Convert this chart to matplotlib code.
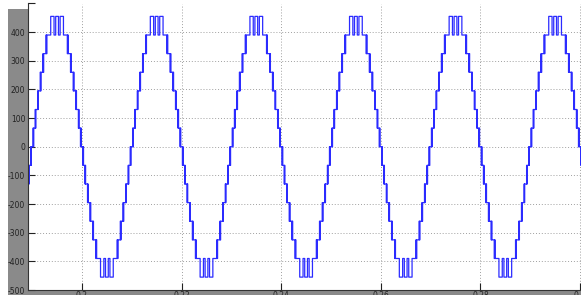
import numpy as np
import matplotlib
matplotlib.use('Agg')
import matplotlib.pyplot as plt
from matplotlib.patches import Rectangle

# staircase inverter output, one positive quarter
# (switching angle in degrees after the rising zero crossing, level index after it)
RISE_DEG = [3.0, 4.5, 5.5, 11.0, 12.0, 13.0, 20.0, 21.0, 22.0, 29.0, 30.5, 31.5,
            39.0, 40.0, 41.5, 50.0, 51.5, 53.0, 67.0, 79.0, 85.0]
RISE_LEVEL = [1, 0, 1, 2, 1, 2, 3, 2, 3, 4, 3, 4, 5, 4, 5, 6, 5, 6, 7, 6, 7]
STEP_V = 65.0          # volts per level
PERIOD = 0.02          # 50 Hz
FIRST_ZERO = 0.17      # a rising zero crossing before the window
N_CYCLES = 8

X_TICKS = [0.2, 0.22, 0.24, 0.26, 0.28, 0.3]
X_LABELS = ['0.2', '0.22', '0.24', '0.26', '0.28', '0.3']
Y_TICKS = [-500, -400, -300, -200, -100, 0, 100, 200, 300, 400, 500]
Y_LABELS = ['-500', '-400', '-300', '-200', '-100', '0', '100', '200', '300', '400', '']


def half_cycle():
    deg = list(RISE_DEG)
    lvl = list(RISE_LEVEL)
    prev = [0] + RISE_LEVEL[:-1]
    for i in range(len(RISE_DEG) - 1, -1, -1):
        deg.append(180.0 - RISE_DEG[i])
        lvl.append(prev[i])
    return np.asarray(deg), np.asarray(lvl)


def build_wave():
    deg, lvl = half_cycle()
    t, v = [FIRST_ZERO], [0.0]
    for n in range(N_CYCLES):
        t0 = FIRST_ZERO + n * PERIOD
        for sign, off in ((1, 0.0), (-1, 180.0)):
            t.extend(t0 + (deg + off) / 360.0 * PERIOD)
            v.extend(sign * lvl * STEP_V)
    return np.asarray(t), np.asarray(v)


t, v = build_wave()

W, H = 581, 295
fig = plt.figure(figsize=(W / 100, H / 100), dpi=100, facecolor='white')
gray = '#8a8a8a'
fig.patches.append(Rectangle((8 / W, 0), 20 / W, (H - 9) / H, transform=fig.transFigure,
                             facecolor=gray, edgecolor='none', zorder=-5))
fig.patches.append(Rectangle((8 / W, 0), 1 - 8 / W, 5 / H, transform=fig.transFigure,
                             facecolor=gray, edgecolor='none', zorder=-5))

ax = fig.add_axes([28 / W, 5 / H, (W - 28) / W, 286.5 / H])
ax.step(t, v, where='post', color='#2b2bff', lw=0.9)

ax.set_xlim(0.18916, 0.3002)
ax.set_ylim(-500, 500)
ax.set_xticks(X_TICKS)
ax.set_xticklabels(X_LABELS)
ax.set_yticks(Y_TICKS)
ax.set_yticklabels(Y_LABELS)
ax.tick_params(direction='in', length=5, width=0.8, labelsize=5.5, colors='#222222', pad=2)
ax.tick_params(axis='x', pad=1)
ax.grid(True, color='#a0a0a0', ls=(0, (1, 2)), lw=0.7)
for s in ('top', 'right'):
    ax.spines[s].set_visible(False)
for s in ('left', 'bottom'):
    ax.spines[s].set_color('#333333')
    ax.spines[s].set_linewidth(0.8)

fig.savefig('out.png', dpi=100)
